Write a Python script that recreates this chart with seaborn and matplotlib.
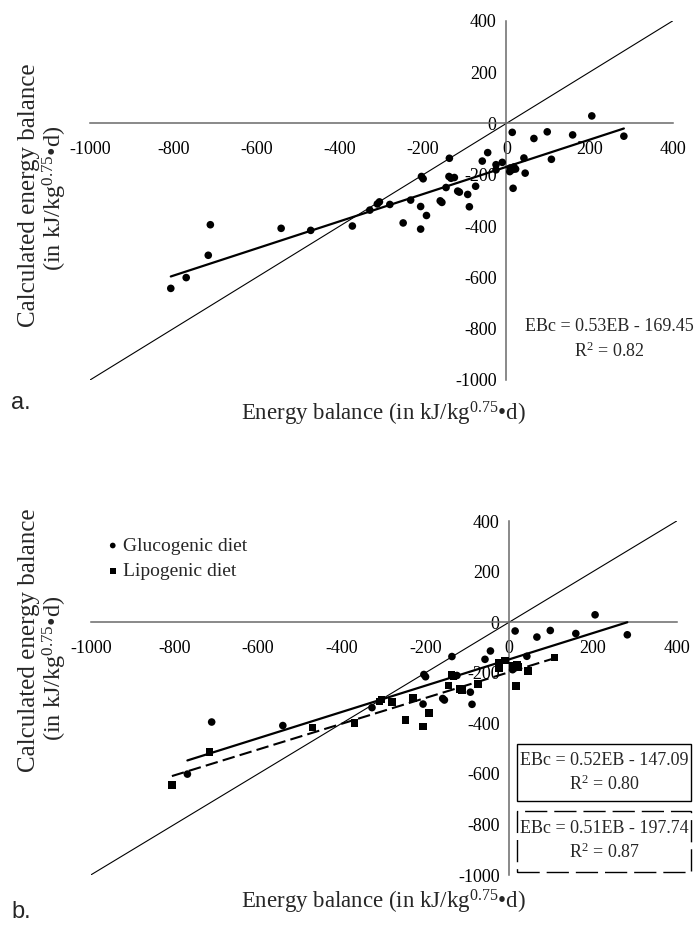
import matplotlib
matplotlib.use("Agg")
import matplotlib.pyplot as plt
from matplotlib.patches import Rectangle
import seaborn as sns
import pandas as pd

# ---------------- data ----------------
gluco_eb = [205, 282, 14, 66, 98, 159, 42, -45, -58, -137, -204, -200, -125,
            -206, -159, -155, -93, -89, -328, -711, -541, -769, 8, 15]
gluco_ebc = [29, -50, -35, -59, -33, -45, -135, -114, -147, -136, -207, -216, -211,
             -324, -302, -308, -277, -325, -338, -395, -409, -601, -188, -180]
lipo_eb = [108, 45, 16, 9, 18, 22, -10, -25, -25, -74, -117, -113, -145,
           -138, -133, -192, -206, -248, -230, -280, -305, -310, -370, -716, -806, -470]
lipo_ebc = [-140, -194, -253, -174, -170, -178, -152, -161, -181, -245, -264, -268, -250,
            -207, -214, -359, -412, -388, -299, -316, -306, -314, -400, -514, -643, -417]

fit_all = (0.53, -169.45)
fit_gluco = (0.52, -147.09)
fit_lipo = (0.51, -197.74)
r2_all, r2_gluco, r2_lipo = 0.82, 0.80, 0.87

ticks = [-1000, -800, -600, -400, -200, 0, 200, 400]
identity = [-1000, 400]
diet_labels = ["Glucogenic diet", "Lipogenic diet"]

# ---------------- style ----------------
sns.set_style("white")
plt.rcParams["font.family"] = ["Liberation Serif", "DejaVu Serif"]
plt.rcParams["mathtext.fontset"] = "custom"
plt.rcParams["mathtext.rm"] = "Liberation Serif"
plt.rcParams["mathtext.it"] = "Liberation Serif:italic"

W, H = 694, 936
fig = plt.figure(figsize=(W / 100, H / 100), dpi=100)

def fx(px):
    return px / W

def fy(py):
    return 1 - py / H

ax1 = fig.add_axes([fx(90), fy(380), fx(583), 359.3 / H])
ax2 = fig.add_axes([fx(90.7), fy(875), fx(586), 354.0 / H])

axis_col = "#6a6a6a"

def style_axes(ax):
    ax.set_xlim(ticks[0], ticks[-1])
    ax.set_ylim(ticks[0], ticks[-1])
    for s in ["top", "right"]:
        ax.spines[s].set_visible(False)
    for s in ["left", "bottom"]:
        ax.spines[s].set_position(("data", 0))
        ax.spines[s].set_color(axis_col)
        ax.spines[s].set_linewidth(1.1)
    ax.set_xticks(ticks)
    ax.set_yticks(ticks)
    ax.set_xticklabels([str(t) for t in ticks])
    ax.set_yticklabels([str(t) for t in ticks])
    ax.tick_params(axis="both", direction="out", length=4, width=0.9,
                   color=axis_col, labelsize=13, labelcolor="black")
    ax.tick_params(axis="x", pad=9)
    ax.tick_params(axis="y", pad=3)
    ax.set_xlabel("")
    ax.set_ylabel("")
    ax.patch.set_alpha(0)

def fit_line(ax, xs, fit, **kw):
    x0, x1 = min(xs), max(xs)
    ax.plot([x0, x1], [fit[0] * x0 + fit[1], fit[0] * x1 + fit[1]], **kw)

def eq_text(fit, r2):
    return f"EBc = {fit[0]:.2f}EB - {abs(fit[1]):.2f}\nR$^2$ = {r2:.2f}"

# ---------------- panel a ----------------
all_eb = gluco_eb + lipo_eb
all_ebc = gluco_ebc + lipo_ebc
df_all = pd.DataFrame({"EB": all_eb, "EBc": all_ebc})
ax1.plot(identity, identity, color="black", lw=0.8, zorder=2)
fit_line(ax1, all_eb, fit_all, color="black", lw=1.6, zorder=3)
sns.scatterplot(data=df_all, x="EB", y="EBc", ax=ax1, color="black", marker="o",
                s=30, edgecolor="none", zorder=4, clip_on=False)
style_axes(ax1)
fig.text(fx(609), fy(339.5), eq_text(fit_all, r2_all),
         ha="center", va="center", multialignment="center", fontsize=13, linespacing=1.45)

# ---------------- panel b ----------------
df_g = pd.DataFrame({"EB": gluco_eb, "EBc": gluco_ebc})
df_l = pd.DataFrame({"EB": lipo_eb, "EBc": lipo_ebc})
ax2.plot(identity, identity, color="black", lw=0.8, zorder=2)
fit_line(ax2, gluco_eb, fit_gluco, color="black", lw=1.6, zorder=3)
fit_line(ax2, lipo_eb, fit_lipo, color="black", lw=1.5, linestyle=(0, (6, 2.5)), zorder=3)
sns.scatterplot(data=df_g, x="EB", y="EBc", ax=ax2, color="black", marker="o",
                s=30, edgecolor="none", zorder=4, label=diet_labels[0], clip_on=False)
sns.scatterplot(data=df_l, x="EB", y="EBc", ax=ax2, color="black", marker="s",
                s=30, edgecolor="none", zorder=4, label=diet_labels[1], clip_on=False)
style_axes(ax2)
ax2.legend(loc="upper left", bbox_to_anchor=(fx(104), fy(537)),
           bbox_transform=fig.transFigure, frameon=False, fontsize=14,
           handletextpad=0.1, handlelength=0.9, labelspacing=0.4,
           borderpad=0, borderaxespad=0, markerscale=0.75)

# equation boxes (panel b)
fig.patches.append(Rectangle((fx(517), fy(801)), fx(691) - fx(517), fy(744) - fy(801),
                             transform=fig.transFigure, fill=True, fc="white",
                             ec="black", lw=1.0, zorder=5))
fig.patches.append(Rectangle((fx(517), fy(872)), fx(691) - fx(517), fy(811) - fy(872),
                             transform=fig.transFigure, fill=True, fc="white",
                             ec="black", lw=1.0, linestyle=(0, (16, 5)), zorder=5))
fig.text(fx(604), fy(773), eq_text(fit_gluco, r2_gluco),
         ha="center", va="center", multialignment="center", fontsize=13,
         linespacing=1.3, zorder=6)
fig.text(fx(604), fy(841), eq_text(fit_lipo, r2_lipo),
         ha="center", va="center", multialignment="center", fontsize=13,
         linespacing=1.3, zorder=6)

# ---------------- labels ----------------
ylab1 = "Calculated energy balance"
ylab2 = "(in kJ/kg$^{0.75}$•d)"
xlab = "Energy balance (in kJ/kg$^{0.75}$•d)"
for c1, c2 in [(195, 198), (640, 668)]:
    fig.text(fx(29), fy(c1), ylab1, rotation=90, ha="center", va="center", fontsize=18)
    fig.text(fx(55), fy(c2), ylab2, rotation=90, ha="center", va="center", fontsize=17.5)
fig.text(fx(383), fy(414), xlab, ha="center", va="center", fontsize=16.5)
fig.text(fx(383), fy(902), xlab, ha="center", va="center", fontsize=16.5)
fig.text(fx(11), fy(403), "a.", ha="left", va="center", fontsize=17,
         family=["Liberation Sans", "DejaVu Sans"])
fig.text(fx(11), fy(912), "b.", ha="left", va="center", fontsize=17,
         family=["Liberation Sans", "DejaVu Sans"])

fig.savefig("out.png", dpi=100, facecolor="white")
